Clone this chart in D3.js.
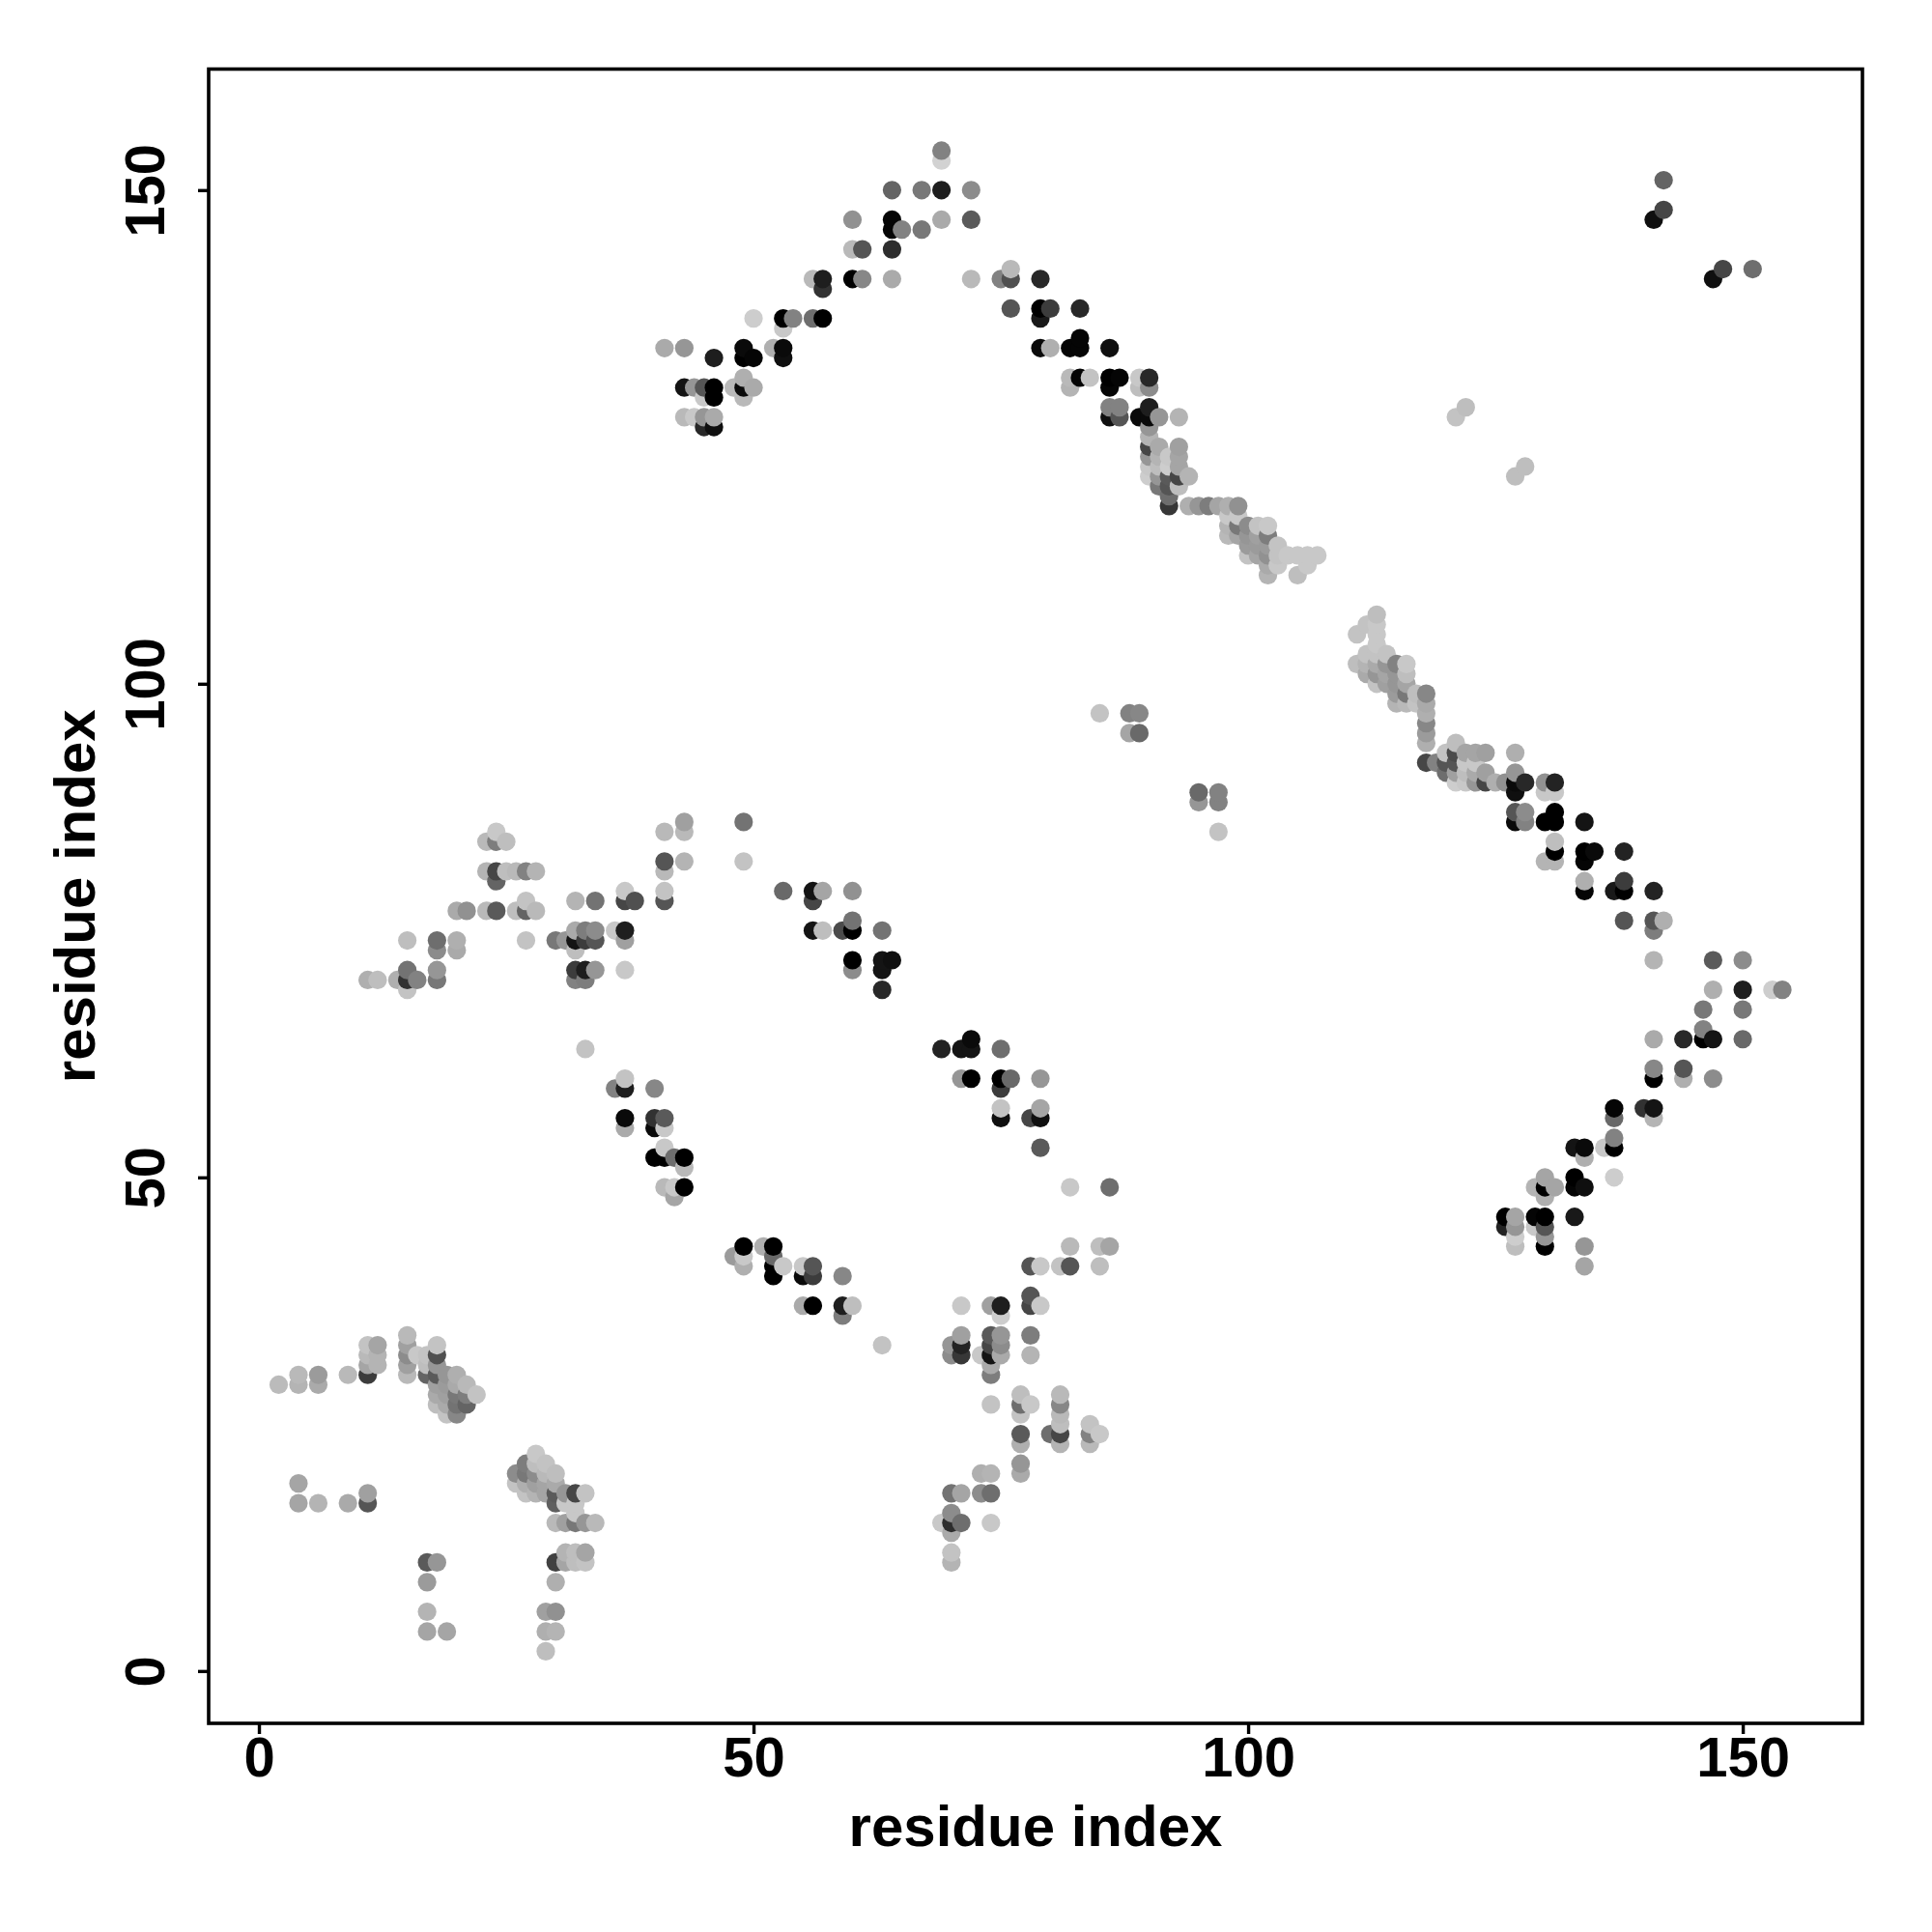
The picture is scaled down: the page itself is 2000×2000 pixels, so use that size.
<!DOCTYPE html>
<html><head><meta charset="utf-8">
<script src="https://cdn.jsdelivr.net/npm/d3@7"></script>
<style>html,body{margin:0;padding:0;background:#fff}svg{display:block}</style>
</head><body><svg id="c" width="2000" height="2000"></svg>
<script>
const xTicks=[0,50,100,150];
const yTicks=[0,50,100,150];
const xTitle="residue index";
const yTitle="residue index";
// [residue i, residue j, shade value]
const contacts=[
[2,29,187],[4,29,180],[4,30,185],[6,29,170],[6,30,155],[9,30,185],[11,30,60],[11,31,165],[11,32,185],[11,33,195],
[12,31,180],[12,32,180],[12,33,165],[15,30,185],[15,31,160],[15,32,140],[15,33,160],[15,34,185],[16,32,200],
[17,30,100],[17,31,190],[17,32,195],[18,33,195],[18,32,80],[18,31,150],[18,30,90],[18,29,160],[18,28,170],[18,27,190],
[19,30,150],[19,29,155],[19,28,160],[19,27,170],[19,26,195],[20,30,175],[20,29,170],[20,28,120],[20,27,115],[20,26,135],
[21,29,185],[21,28,125],[21,27,100],[22,28,195],
[4,17,165],[4,19,165],[6,17,180],[9,17,170],[11,17,85],[11,18,160],
[26,20,140],[26,19,195],[27,21,125],[27,20,120],[27,19,175],[27,18,195],[28,22,200],[28,21,190],[28,20,140],[28,19,160],[28,18,180],
[29,21,195],[29,20,185],[29,19,165],[29,18,165],[30,20,190],[30,19,170],[30,18,90],[30,17,95],[31,18,150],[31,17,200],
[32,18,70],[32,17,200],[32,16,200],[33,18,195],[30,15,185],[31,15,160],[32,15,120],[33,15,150],[34,15,185],
[30,11,65],[31,12,180],[31,11,165],[32,12,190],[32,11,190],[33,12,165],[33,11,195],[30,9,175],
[29,6,160],[29,4,175],[29,2,190],[30,6,145],[30,4,180],[17,11,90],[17,9,155],[17,6,180],[17,4,165],[18,11,150],[19,4,165],
[11,70,175],[12,70,190],[14,70,175],[15,69,195],[15,70,50],[15,71,115],[16,70,130],[18,70,120],[18,71,150],[18,73,140],[18,74,110],
[15,74,190],[20,73,170],[20,74,175],[20,77,170],[21,77,145],[23,77,185],[24,77,90],[26,77,190],[27,77,100],[27,78,195],[28,77,185],[27,74,195],
[23,81,180],[24,81,70],[24,80,100],[25,81,190],[26,81,185],[27,81,130],[28,81,180],[23,84,185],[24,84,125],[24,85,200],[25,84,190],
[30,74,120],[31,74,150],[32,73,190],[32,74,20],[32,75,170],[33,74,60],[33,75,125],[34,74,85],[34,75,140],[36,75,200],[37,74,160],[37,75,30],
[32,71,60],[32,70,130],[33,71,30],[33,70,125],[34,71,150],[37,71,200],[32,78,180],[34,78,115],[37,78,70],[37,79,200],[38,78,80],
[41,78,85],[41,79,195],[41,81,185],[41,82,85],[41,85,185],[43,82,180],[43,85,185],[43,86,160],[49,86,115],[49,82,195],
[53,79,105],[56,79,20],[56,78,70],[56,75,20],[57,79,165],[57,75,190],[59,75,75],[60,75,0],[60,76,115],[60,79,145],[63,75,115],
[60,72,0],[60,71,140],[63,72,20],[63,71,20],[63,69,40],[64,72,15],
[33,63,195],[36,59,130],[37,60,195],[37,59,30],[40,59,135],[37,56,10],[37,55,170],[40,56,50],[40,55,10],[41,56,90],[41,55,200],
[40,52,0],[41,53,200],[41,52,0],[42,52,110],[43,52,0],[43,51,185],[41,49,185],[42,49,200],[42,48,165],[43,49,0],
[48,42,155],[49,43,0],[49,42,200],[49,41,175],[51,43,175],[52,43,0],[52,42,105],[52,41,0],[52,40,0],[53,41,200],
[55,41,200],[55,40,10],[56,41,85],[56,40,60],[59,40,135],[55,37,170],[56,37,0],[59,37,30],[59,36,125],[60,37,190],[63,33,195],
[69,63,35],[71,63,20],[72,64,10],[72,63,20],[75,63,110],[71,60,150],[72,60,0],[75,60,0],[75,59,60],[76,60,105],[79,60,150],
[75,57,195],[75,56,15],[78,56,70],[79,57,165],[79,56,15],[79,53,90],[82,49,200],[86,49,110],
[82,43,185],[85,43,190],[86,43,165],[78,41,85],[79,41,200],[81,41,195],[82,41,85],[85,41,190],
[71,37,200],[74,37,160],[75,37,30],[75,36,205],[78,38,85],[78,37,70],[79,37,200],
[70,33,150],[70,32,140],[71,34,160],[71,33,35],[71,32,55],[73,32,200],[74,34,90],[74,33,70],[74,32,20],[74,31,170],[74,30,125],
[75,34,150],[75,33,140],[75,32,170],[78,34,125],[78,32,180],
[74,27,195],[77,28,190],[77,27,110],[77,26,195],[78,27,200],[77,24,90],[77,23,175],[77,21,150],[77,20,170],
[80,24,110],[81,28,185],[81,27,135],[81,26,185],[81,25,190],[81,24,70],[81,23,180],[84,25,195],[84,24,130],[84,23,185],[85,24,200],
[73,20,175],[74,20,180],[70,18,115],[71,18,165],[73,18,140],[74,18,110],
[69,15,200],[70,16,140],[70,15,45],[70,14,170],[70,12,195],[70,11,180],[71,15,110],[74,15,200],
[41,134,170],[43,134,150],[46,133,30],[49,134,10],[49,133,0],[50,133,5],[52,134,175],[53,134,10],[53,133,15],[50,137,205],
[53,137,0],[53,136,200],[54,137,130],[56,137,110],[57,137,0],[56,141,185],[57,141,30],[57,140,50],[60,141,0],[61,141,135],[64,141,170],
[60,144,185],[61,144,85],[64,144,45],[60,147,145],[64,147,5],[64,146,5],[65,146,130],[67,146,120],[69,147,170],[72,147,90],
[64,150,100],[67,150,120],[69,150,30],[72,150,140],[69,154,130],[69,153,210],[72,141,185],
[43,130,20],[44,130,150],[45,130,85],[45,129,200],[45,127,150],[45,126,40],[46,130,0],[46,129,0],[46,127,170],[46,126,15],[43,127,185],[44,127,200],
[48,130,185],[49,131,175],[49,130,10],[49,129,185],[50,130,170],
[75,141,130],[76,141,80],[76,142,185],[76,138,85],[79,141,40],[79,138,0],[79,137,25],[80,138,60],[83,138,40],
[79,134,10],[80,134,175],[82,134,5],[83,135,5],[83,134,5],[86,134,15],
[82,131,185],[82,130,180],[83,131,5],[84,131,195],[86,131,0],[86,130,5],[87,131,5],[89,131,200],[89,130,190],[90,131,40],[90,130,140],
[86,128,130],[86,127,15],[87,128,130],[87,127,85],[89,127,10],[90,128,30],[90,127,10],[91,127,150],[93,127,180],
[90,126,150],[90,125,180],[90,124,70],[90,123,150],[90,122,200],[90,121,205],
[91,124,170],[91,123,180],[91,122,190],[91,121,150],[91,120,120],
[92,123,200],[92,122,205],[92,121,90],[92,120,85],[92,119,110],[92,118,55],
[93,124,160],[93,123,165],[93,122,165],[93,121,70],[93,120,190],[94,121,180],
[94,118,175],[95,118,150],[96,118,125],[97,118,165],[98,118,175],[99,118,145],
[98,117,200],[98,116,180],[98,115,185],[99,117,200],[99,116,120],[99,115,165],
[100,116,140],[100,115,150],[100,114,155],[100,113,195],[101,116,195],[101,115,160],[101,114,155],[101,113,165],
[102,116,200],[102,115,125],[102,114,155],[102,113,145],[102,112,170],[102,111,180],[103,114,195],[103,113,195],[103,112,200],
[104,113,200],[105,113,200],[105,111,190],[106,113,200],[106,112,200],[107,113,200],
[111,105,195],[111,102,190],[112,106,195],[112,103,195],[112,102,180],[112,101,170],
[113,107,190],[113,106,200],[113,105,200],[113,104,200],[113,103,195],[113,102,170],[113,101,150],[113,100,195],
[114,103,195],[114,102,150],[114,101,165],[114,100,160],[115,102,130],[115,101,150],[115,100,150],[115,99,155],[115,98,180],
[116,102,200],[116,101,190],[116,100,165],[116,99,120],[116,98,185],[117,99,190],[117,98,195],
[118,99,135],[118,98,170],[118,97,175],[118,96,135],[118,95,155],[118,94,175],[118,92,70],[119,92,130],
[120,93,195],[120,92,85],[120,91,110],[121,94,190],[121,93,75],[121,92,85],[121,91,160],[121,90,205],
[122,93,165],[122,92,200],[122,91,190],[122,90,200],[123,93,165],[123,92,200],[123,91,170],[123,90,150],[124,93,160],[124,91,160],[124,90,70],
[125,90,175],[126,90,145],[127,93,175],[127,91,150],[127,90,10],[127,89,15],[128,90,40],[130,90,145],[130,89,200],[131,90,35],[131,89,200],
[127,87,85],[127,86,10],[128,87,140],[128,86,130],[130,86,0],[131,87,0],[131,86,0],[134,86,20],
[131,84,190],[131,83,0],[131,82,180],[130,82,180],[134,83,0],[134,82,5],[135,83,10],[138,83,35],
[134,80,175],[134,79,5],[137,79,25],[138,80,60],[138,79,0],[141,79,35],[138,76,85],[141,76,85],[141,75,125],[142,76,175],
[141,72,180],[147,72,90],[150,72,140],[147,69,175],[150,69,30],[153,69,205],[154,69,130],[146,67,120],[150,67,120],
[146,65,130],[146,64,0],[141,64,170],[144,64,40],[147,64,20],[150,64,105],[141,61,135],[141,60,0],[144,61,85],[144,60,175],[147,60,140],
[137,57,5],[137,56,105],[140,57,50],[141,57,20],[141,56,180],[137,54,130],[137,53,0],[136,53,200],[133,53,20],[134,53,10],[134,52,175],[137,50,205],
[133,50,0],[133,49,5],[134,49,15],[133,46,25],[134,43,150],[134,41,165],[129,49,180],[130,50,165],[130,49,0],[130,48,175],[131,49,165],
[129,46,5],[129,45,200],[130,46,0],[130,45,85],[130,44,150],[130,43,0],[126,46,0],[126,45,35],[127,46,165],[127,45,150],[127,44,205],[127,43,190],
[141,147,15],[142,148,70],[142,151,100],[147,141,15],[148,142,70],[151,142,110],[121,127,195],[122,128,190],[127,121,190],[128,122,190],
[85,97,195],[88,97,130],[89,97,135],[88,95,165],[89,95,105],[95,89,105],[95,88,150],[97,89,130],[97,88,130],[97,85,195]
];

const box={l:216,r:1928,t:71.5,b:1784};
const svg=d3.select("#c");
const x=d3.scaleLinear().domain([-5.08,162.1]).range([box.l,box.r]);
const y=d3.scaleLinear().domain([-5.3,162.26]).range([box.b,box.t]);
const shade=d3.scaleLinear().domain([0,255]).range(["#000000","#ffffff"]);
const font="'Liberation Sans',Arial,sans-serif";

const pts=contacts.slice().sort((a,b)=>d3.ascending(a[0],b[0])||d3.ascending(a[1],b[1]));
svg.append("g").selectAll("circle").data(pts).join("circle")
  .attr("cx",d=>x(d[0])).attr("cy",d=>y(d[1])).attr("r",9.6).attr("fill",d=>shade(d[2]));

svg.append("rect").attr("x",box.l).attr("y",box.t).attr("width",box.r-box.l).attr("height",box.b-box.t)
  .attr("fill","none").attr("stroke","#000").attr("stroke-width",3.6);

const gx=svg.append("g").attr("transform",`translate(0,${box.b})`)
  .call(d3.axisBottom(x).tickValues(xTicks).tickSize(11).tickSizeOuter(0));
const gy=svg.append("g").attr("transform",`translate(${box.l},0)`)
  .call(d3.axisLeft(y).tickValues(yTicks).tickSize(11).tickSizeOuter(0));
[gx,gy].forEach(g=>{
  g.select(".domain").remove();
  g.selectAll("line").attr("stroke","#000").attr("stroke-width",3.4);
  g.selectAll("text").attr("fill","#000").style("font-family",font).style("font-weight","bold").style("font-size","58px");
});
gx.selectAll("text").attr("dy",null).attr("text-anchor","middle").attr("y",55);
gy.selectAll("text").attr("x",null).attr("dy",null).attr("text-anchor","middle")
  .attr("transform",`translate(${170-box.l},0) rotate(-90)`);

svg.append("text").attr("x",(box.l+box.r)/2).attr("y",1911).attr("text-anchor","middle")
  .style("font-family",font).style("font-weight","bold").style("font-size","60px").text(xTitle);
svg.append("text").attr("transform",`translate(98,${(box.t+box.b)/2}) rotate(-90)`).attr("text-anchor","middle")
  .style("font-family",font).style("font-weight","bold").style("font-size","60px").text(yTitle);
</script></body></html>
